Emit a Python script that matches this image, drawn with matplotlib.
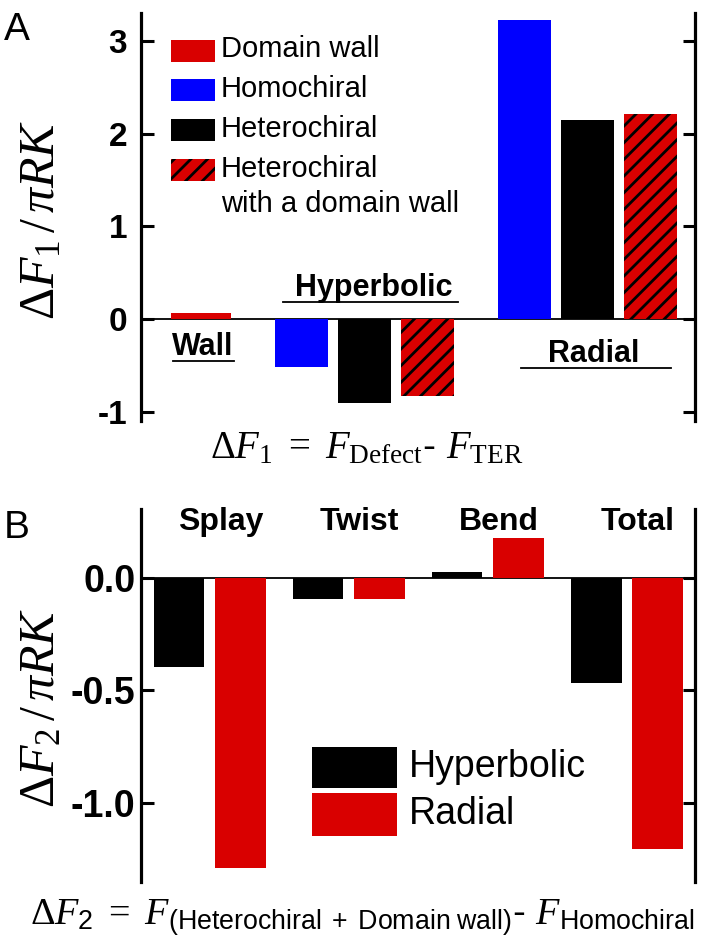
import numpy as np
import matplotlib
matplotlib.use("Agg")
import matplotlib.pyplot as plt
from matplotlib.patches import Rectangle

plt.rcParams['font.family'] = ['Liberation Sans', 'DejaVu Sans']
plt.rcParams['mathtext.fontset'] = 'custom'
plt.rcParams['mathtext.rm'] = 'Liberation Serif'
plt.rcParams['mathtext.it'] = 'Liberation Serif:italic'
plt.rcParams['mathtext.bf'] = 'Liberation Serif:bold'
plt.rcParams['mathtext.sf'] = 'Liberation Sans'
plt.rcParams['axes.unicode_minus'] = False
plt.rcParams['hatch.linewidth'] = 2.0

RED = '#d90000'
BLUE = '#0000ff'
BLACK = '#000000'

# panel A data
wall_value = [0.07]
hyper_values = [-0.51, -0.905, -0.83]     # homochiral, heterochiral, hetero + wall
radial_values = [3.23, 2.145, 2.21]
legend_a = ['Domain wall', 'Homochiral', 'Heterochiral', 'Heterochiral\nwith a domain wall']

# panel B data
components = ['Splay', 'Twist', 'Bend', 'Total']
hyperbolic_b = [-0.396, -0.095, 0.024, -0.467]
radial_b = [-1.29, -0.095, 0.178, -1.205]
legend_b = ['Hyperbolic', 'Radial']

fig = plt.figure(figsize=(7.03, 9.51), dpi=100)
axA = fig.add_axes([0.2006, 0.557, 0.788, 0.4293])
axB = fig.add_axes([0.2006, 0.0726, 0.788, 0.3922])


def style_axis(ax, pad):
    for s in ['top', 'bottom']:
        ax.spines[s].set_visible(False)
    for s in ['left', 'right']:
        ax.spines[s].set_linewidth(2.3)
    ax.tick_params(axis='y', which='major', direction='in', length=9, width=2.2,
                   right=True, left=True, labelright=False, pad=pad)
    ax.set_xticks([])
    ax.axhline(0, color='black', lw=1.3, zorder=1)


# ---- panel A ----
style_axis(axA, 10)
bw = 0.836
hyp_x = 2.58 + np.arange(3)
rad_x = 6.1 + np.arange(3)
cols = [BLUE, BLACK, RED]
hatches = [None, None, '//']
axA.bar([1.0], wall_value, width=0.94, color=RED, lw=0, zorder=2)
for i in range(3):
    axA.bar(hyp_x[i], hyper_values[i], width=bw, color=cols[i], hatch=hatches[i],
            edgecolor='black', lw=0, zorder=2)
    axA.bar(rad_x[i], radial_values[i], width=bw, color=cols[i], hatch=hatches[i],
            edgecolor='black', lw=0, zorder=2)
axA.set_xlim(0.05, 8.80)
axA.set_ylim(-1.1, 3.3)
axA.set_yticks([-1, 0, 1, 2, 3])
axA.set_yticklabels(['-1', '0', '1', '2', '3'], fontsize=24, fontweight='bold')

axA.text(1.02, -0.3, 'Wall', fontsize=22, fontweight='bold', ha='center', va='center')
axA.plot([0.56, 1.52], [-0.45, -0.45], color='black', lw=1.3)
axA.text(3.72, 0.34, 'Hyperbolic', fontsize=22, fontweight='bold', ha='center', va='center')
axA.plot([2.3, 5.05], [0.19, 0.19], color='black', lw=1.3)
axA.text(7.2, -0.37, 'Radial', fontsize=22, fontweight='bold', ha='center', va='center')
axA.plot([6.05, 8.42], [-0.528, -0.528], color='black', lw=1.3)

# legend A drawn by hand so that the patch sits on the first text line
rows = [0.907, 0.811, 0.713, 0.615]
leg_cols = [RED, BLUE, BLACK, RED]
leg_hatch = [None, None, None, '//']
for y, lab, c, h in zip(rows, legend_a, leg_cols, leg_hatch):
    axA.add_patch(Rectangle((0.054, y - 0.027), 0.08, 0.054, transform=axA.transAxes,
                            facecolor=c, hatch=h, edgecolor='black', lw=0, clip_on=False))
    axA.text(0.1444, y + 0.038, lab, transform=axA.transAxes, fontsize=21, va='top',
             ha='left', linespacing=1.35)

# ---- panel B ----
style_axis(axB, 4)
xb = np.arange(len(components))
axB.bar(xb - 0.22, hyperbolic_b, width=0.364, color=BLACK, lw=0, zorder=2)
axB.bar(xb + 0.22, radial_b, width=0.364, color=RED, lw=0, zorder=2)
axB.set_xlim(-0.493, 3.49)
axB.set_ylim(-1.351, 0.305)
axB.set_yticks([-1.0, -0.5, 0.0])
axB.set_yticklabels(['-1.0', '-0.5', '0.0'], fontsize=27, fontweight='bold')
for i, name in enumerate(components):
    axB.text(i + 0.08, 0.249, name, fontsize=23, fontweight='bold', ha='center', va='center')

for (y0, y1), lab, c in zip([(0.252, 0.362), (0.123, 0.239)], legend_b, [BLACK, RED]):
    axB.add_patch(Rectangle((0.309, y0), 0.153, y1 - y0, transform=axB.transAxes,
                            facecolor=c, lw=0))
    axB.text(0.484, (y0 + y1) / 2, lab, transform=axB.transAxes, fontsize=27,
             va='center', ha='left')

# axis labels and equations
fig.text(0.058, 1 - 220 / 951, r'$\Delta F_1\,/\,\pi RK$', fontsize=36, rotation=90,
         ha='center', va='center')
fig.text(0.058, 1 - 708 / 951, r'$\Delta F_2\,/\,\pi RK$', fontsize=36, rotation=90,
         ha='center', va='center')
fig.text(0.521, 1 - 448 / 951, r'$\Delta F_1\ =\ F_{\mathrm{Defect}}$' + '- ' + r'$F_{\mathrm{TER}}$',
         fontsize=28, ha='center', va='center')
fig.text(0.515, 0.035, r'$\Delta F_{\mathsf{2}}\ =\ F_{\mathsf{(Heterochiral\ +\ Domain\ wall)}}$'
         + '- ' + r'$F_{\mathsf{Homochiral}}$', fontsize=27.5, ha='center', va='center')

fig.text(0.005, 1 - 12 / 951, 'A', fontsize=28, ha='left', va='top')
fig.text(0.005, 1 - 510 / 951, 'B', fontsize=28, ha='left', va='top')

fig.savefig('out.png', dpi=100)
